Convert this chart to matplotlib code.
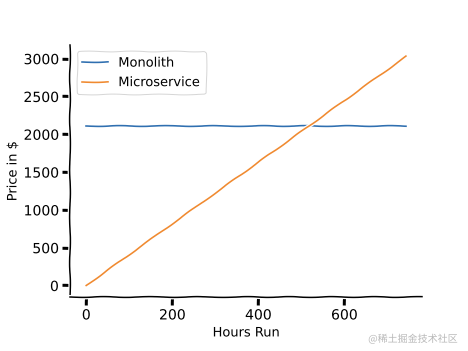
import matplotlib
matplotlib.use("Agg")
import matplotlib.pyplot as plt

hours = [0, 744]
monolith = [2115, 2115]
microservice = [0, 3030]
series_labels = ["Monolith", "Microservice"]
x_label = "Hours Run"
y_label = "Price in $"
watermark = "@稀土掘金技术社区"

with plt.xkcd(scale=0.4, length=50, randomness=2):
    plt.rcParams['font.family'] = ['DejaVu Sans', 'Noto Sans CJK SC']
    fig = plt.figure(figsize=(6.5, 4.875), dpi=72)
    ax = fig.add_axes([0.150, 0.154, 0.752, 0.718])
    ax.spines['top'].set_visible(False)
    ax.spines['right'].set_visible(False)
    ax.plot(hours, monolith, label=series_labels[0], color='#2f6fb0', lw=1.6)
    ax.plot(hours, microservice, label=series_labels[1], color='#f08a30', lw=1.6)
    ax.set_xticks([0, 200, 400, 600])
    ax.set_yticks([0, 500, 1000, 1500, 2000, 2500, 3000])
    ax.tick_params(labelsize=14)
    ax.set_xlabel(x_label, fontsize=13)
    ax.set_ylabel(y_label, fontsize=13)
    ax.legend(loc='upper left', fontsize=13)
    fig.text(0.978, 0.035, watermark, ha='right', va='center', fontsize=10,
             color='#b8b8b8', family=['Noto Sans CJK SC', 'DejaVu Sans'])
    fig.savefig("out.png", dpi=72)
